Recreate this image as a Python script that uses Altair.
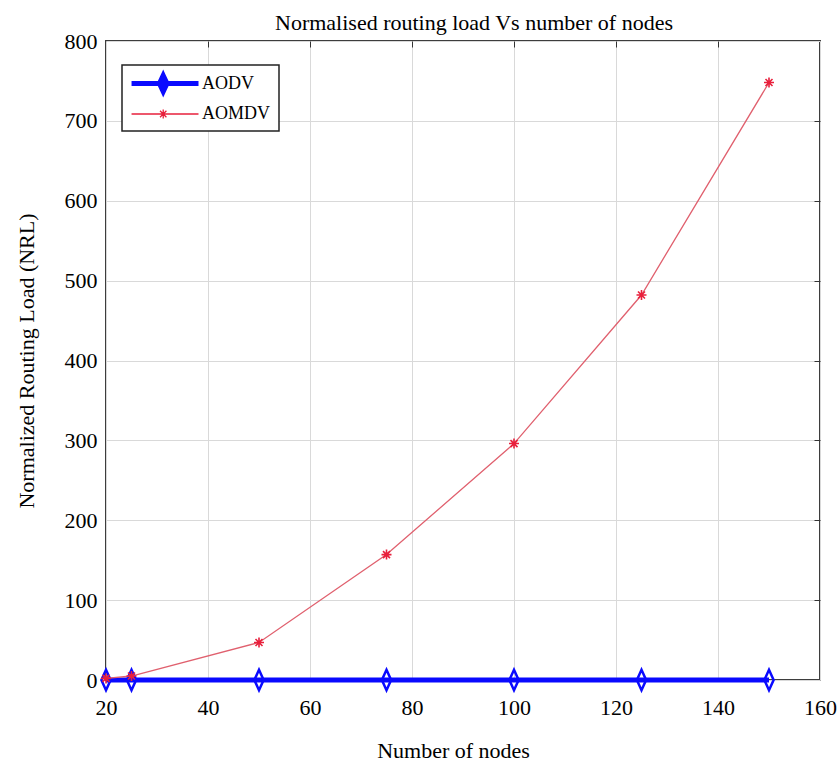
import altair as alt
import pandas as pd

# ---- data ----
nodes = [20, 25, 50, 75, 100, 125, 150]
aodv = [0, 0, 0, 0, 0, 0, 0]
aomdv = [2, 5, 47, 157, 296, 482, 748]
series_names = ["AODV", "AOMDV"]
x_ticks = [20, 40, 60, 80, 100, 120, 140, 160]
y_ticks = [0, 100, 200, 300, 400, 500, 600, 700, 800]

df = pd.DataFrame({
    "nodes": nodes + nodes,
    "value": aodv + aomdv,
    "series": ["AODV"] * len(nodes) + ["AOMDV"] * len(nodes),
})

SERIF = "Liberation Serif"
BLUE = "#0a0aff"
RED_LINE = "#e0606e"
RED_MARK = "#e8203c"

DIAMOND = "M0,-1L0.45,0L0,1L-0.45,0Z"
STAR = "M-1,0H1M0,-1V1M-0.7,-0.7L0.7,0.7M-0.7,0.7L0.7,-0.7"
LEG_AODV = "M-1.12,0H7.25M2.84,-1L3.31,0L2.84,1L2.37,0Z"
LEG_AOMDV = "M-1.12,0H7.25M2.28,0H3.4M2.84,-0.56V0.56M2.44,-0.4L3.24,0.4M2.44,0.4L3.24,-0.4"

xscale = alt.Scale(domain=[20, 160], nice=False, zero=False)
yscale = alt.Scale(domain=[0, 800], nice=False)

x_axis_main = alt.Axis(
    values=x_ticks, grid=True, gridColor="#d9d9d9", gridWidth=1, ticks=False,
    domain=False, labelPadding=17, labelFontSize=22, labelFont=SERIF,
    labelColor="black", labelFlush=False, labelOverlap=False,
    title="Number of nodes", titleFontSize=22, titleFont=SERIF,
    titleFontWeight="normal", titleColor="black", titleX=347, titleY=77,
    titleBaseline="alphabetic", titleAlign="center",
)
y_axis_main = alt.Axis(
    values=y_ticks, grid=True, gridColor="#d9d9d9", gridWidth=1, ticks=False,
    domain=False, labelPadding=9, labelFontSize=22, labelFont=SERIF,
    labelColor="black", labelFlush=False, labelOverlap=False,
    title="Normalized Routing Load (NRL)", titleFontSize=22, titleFont=SERIF,
    titleFontWeight="normal", titleColor="black", titleX=-73, titleY=319.5,
    titleAngle=270, titleBaseline="alphabetic", titleAlign="center",
)
x_axis_in = alt.Axis(
    orient="top", values=x_ticks[1:-1], labels=False, grid=False, domain=False,
    ticks=True, tickSize=6, offset=-6, tickColor="#333333", tickWidth=1, title=None,
)
y_axis_in = alt.Axis(
    orient="right", values=y_ticks[1:-1], labels=False, grid=False, domain=False,
    ticks=True, tickSize=6, offset=-6, tickColor="#333333", tickWidth=1, title=None,
)

base = alt.Chart(df)

blue_line = base.mark_line(color=BLUE, strokeWidth=5).encode(
    x=alt.X("nodes:Q", scale=xscale, axis=x_axis_main),
    y=alt.Y("value:Q", scale=yscale, axis=y_axis_main),
).transform_filter(alt.datum.series == "AODV")

blue_pts = base.mark_point(
    shape=DIAMOND, filled=False, color=BLUE, strokeWidth=2.5, size=420, opacity=1
).encode(
    x=alt.X("nodes:Q", scale=xscale, axis=None),
    y=alt.Y("value:Q", scale=yscale, axis=None),
).transform_filter(alt.datum.series == "AODV")

red_line = base.mark_line(color=RED_LINE, strokeWidth=1.3).encode(
    x=alt.X("nodes:Q", scale=xscale, axis=x_axis_in),
    y=alt.Y("value:Q", scale=yscale, axis=y_axis_in),
).transform_filter(alt.datum.series == "AOMDV")

red_pts = base.mark_point(
    shape=STAR, filled=False, color=RED_MARK, strokeWidth=1.6, size=100, opacity=1
).encode(
    x=alt.X("nodes:Q", scale=xscale, axis=None),
    y=alt.Y("value:Q", scale=yscale, axis=None),
).transform_filter(alt.datum.series == "AOMDV")

leg = alt.Legend(
    title=None, orient="none", legendX=16, legendY=24, padding=8,
    strokeColor="#222222", fillColor="white", symbolSize=256, symbolOpacity=1,
    labelFontSize=18, labelFont=SERIF, labelColor="black", labelOffset=51,
    rowPadding=3, columns=1,
)

legend_layer = base.mark_point(filled=False, size=256).encode(
    x=alt.X("nodes:Q", scale=xscale, axis=None),
    y=alt.Y("value:Q", scale=yscale, axis=None),
    shape=alt.Shape("series:N", scale=alt.Scale(domain=series_names, range=[LEG_AODV, LEG_AOMDV]), legend=leg),
    color=alt.Color("series:N", scale=alt.Scale(domain=series_names, range=[BLUE, RED_MARK]), legend=leg),
    strokeWidth=alt.StrokeWidth("series:N", scale=alt.Scale(domain=series_names, range=[5, 1.3]), legend=leg),
).transform_filter("false")

chart = alt.layer(blue_line, blue_pts, red_line, red_pts, legend_layer).resolve_axis(
    x="independent", y="independent"
).properties(
    width=714,
    height=639,
    autosize=alt.AutoSizeParams(type="none"),
    padding={"left": 106, "top": 41, "right": 17, "bottom": 82},
    title=alt.TitleParams(
        "Normalised routing load Vs number of nodes", fontSize=22, font=SERIF,
        fontWeight="normal", color="black", anchor="middle", dx=11, dy=10, offset=5,
    ),
).configure(background="white").configure_view(
    stroke="#3d3d3d", strokeWidth=2
).configure_legend(strokeWidth=1.5)

chart.save("out.html", embed_options={"renderer": "svg", "actions": False})
